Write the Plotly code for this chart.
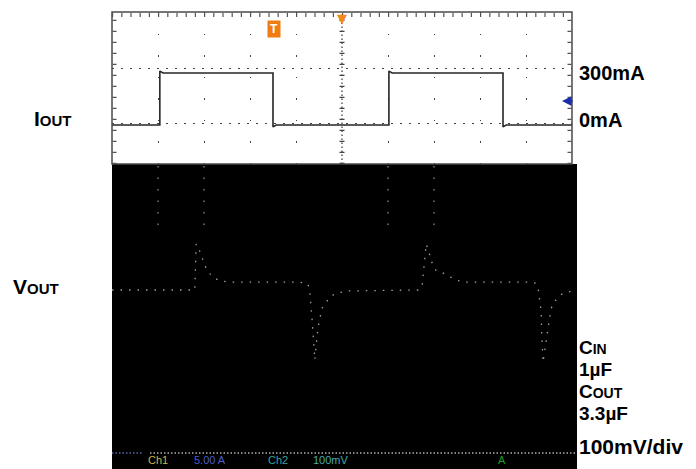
import plotly.graph_objects as go

# ---------------- data ----------------
# time axis in screen divisions (10 div across)
current_t_div = [0, 1.04, 1.04, 1.11, 3.50, 3.50, 3.57, 6.02, 6.02, 6.09, 8.50, 8.50, 8.57, 10]
current_mA = [0, 0, 311, 300, 300, -11, 0, 0, 311, 300, 300, -11, 0, 0]

voltage_t_div = [0, 1.80, 1.83, 1.89, 1.96, 2.00, 2.07, 2.13, 2.22, 2.35, 2.57, 4.09, 4.26,
                 4.30, 4.35, 4.39, 4.41, 4.46, 4.50, 4.57, 4.65, 4.74, 4.87, 5.15, 6.65, 6.74,
                 6.83, 6.89, 6.93, 7.04, 7.13, 7.26, 7.48, 7.63, 9.02, 9.20, 9.26, 9.28, 9.33,
                 9.34, 9.35, 9.37, 9.54, 9.59, 9.78, 9.93, 10.0]
voltage_mV = [0, 0, 100, 89, 70, 57, 43, 35, 26, 20, 17, 17, 13,
              -4, -65, -120, -152, -98, -70, -39, -28, -15, -7, -2, 0, 7,
              100, 83, 65, 43, 41, 33, 22, 17, 17, 15, 7, -13, -48,
              -91, -135, -157, -43, -28, -9, -4, -2]

current_labels = ["300mA", "0mA"]
trigger_time_div = 5.0
trigger_level_mA = 138
trigger_mark_div = 3.52

# ---------------- layout helpers ----------------
W, H = 696, 469
def px(x):
    return x / W
def py(y):
    return (H - y) / H

X0, X1 = 112, 572          # screen left/right
TOP0, TOP1 = 12, 164       # current panel top/bottom
Y_TOP = [-225, 652]        # mA range of current panel
Y_BOT = [-389.1, 273.9]    # mV range of voltage panel

FONT = "Liberation Sans, Arial, sans-serif"

fig = go.Figure()

fig.add_trace(go.Scatter(
    x=current_t_div, y=current_mA, mode="lines", xaxis="x", yaxis="y",
    line=dict(color="#262626", width=1.6), hoverinfo="skip", showlegend=False))

fig.add_trace(go.Scatter(
    x=voltage_t_div, y=voltage_mV, mode="lines", xaxis="x2", yaxis="y2",
    line=dict(color="#a0a0a0", width=1.3, dash="1.5px,7px"), hoverinfo="skip",
    showlegend=False))

shapes = []
# black voltage screen
shapes.append(dict(type="rect", xref="paper", yref="paper", x0=px(112), x1=px(577),
                   y0=0, y1=py(164), fillcolor="black", line=dict(width=0), layer="below"))
# current panel border
shapes.append(dict(type="rect", xref="paper", yref="paper", x0=px(X0), x1=px(X1),
                   y0=py(TOP1), y1=py(TOP0), line=dict(color="#4a4a4a", width=1.5)))
# minor ticks along top border
shapes.append(dict(type="line", xref="paper", yref="paper", x0=px(X0), x1=px(X1),
                   y0=py(15), y1=py(15), line=dict(color="#555", width=4, dash="1.2px,8px")))
# minor ticks along left / right border
for xb in (114.5, 569.5):
    shapes.append(dict(type="line", xref="paper", yref="paper", x0=px(xb), x1=px(xb),
                       y0=py(TOP1), y1=py(TOP0), line=dict(color="#555", width=4, dash="1.2px,9.8px")))
# centre vertical line with ticks
shapes.append(dict(type="line", xref="x", yref="paper", x0=trigger_time_div, x1=trigger_time_div,
                   y0=py(TOP1), y1=py(TOP0), line=dict(color="#333", width=1.2, dash="1.5px,2.5px")))
shapes.append(dict(type="line", xref="x", yref="paper", x0=trigger_time_div, x1=trigger_time_div,
                   y0=py(TOP1), y1=py(TOP0), line=dict(color="#444", width=5, dash="1.2px,9.8px")))
# faint grid remnants in the black screen
for gx in (1, 2, 6, 7):
    shapes.append(dict(type="line", xref="x2", yref="paper", x0=gx, x1=gx,
                       y0=py(225), y1=py(166), line=dict(color="#777", width=1.5, dash="1.5px,10px")))
# bottom dotted graticule line
shapes.append(dict(type="line", xref="paper", yref="paper", x0=px(112), x1=px(143),
                   y0=py(453), y1=py(453), line=dict(color="#5a6ab0", width=1.5, dash="1.5px,2px")))
shapes.append(dict(type="line", xref="paper", yref="paper", x0=px(150), x1=px(577),
                   y0=py(453), y1=py(453), line=dict(color="#b0b0b0", width=1.5, dash="1.5px,2px")))

ann = []
def label(x, y, text, size, anchor="left"):
    ann.append(dict(xref="paper", yref="paper", x=px(x), y=py(y), text=text, showarrow=False,
                    xanchor=anchor, yanchor="middle",
                    font=dict(family=FONT, size=size, color="black")))

label(577, 73, "<b>%s</b>" % current_labels[0], 20)
label(577, 120, "<b>%s</b>" % current_labels[1], 20)
label(32, 118, '<b>I<span style="font-size:15px">OUT</span></b>', 21)
label(11, 286, '<b>V<span style="font-size:15px">OUT</span></b>', 21)
label(577, 347, '<b>C<span style="font-size:14px">IN</span></b>', 19)
label(577, 369, '<b>1µF</b>', 19)
label(577, 391, '<b>C<span style="font-size:14px">OUT</span></b>', 19)
label(577, 413, '<b>3.3µF</b>', 19)
label(577, 446, '<b>100mV/div</b>', 21)

# trigger markers
ann.append(dict(xref="x", yref="paper", x=trigger_time_div, y=py(9), text="▼", showarrow=False,
                xanchor="center", yanchor="top", font=dict(family="DejaVu Sans", size=13, color="#f08a1c")))
ann.append(dict(xref="x", yref="paper", x=trigger_mark_div, y=py(29), text="<b>T</b>", showarrow=False,
                xanchor="center", yanchor="middle", bgcolor="#f07d12", width=10, height=14, borderpad=1,
                font=dict(family=FONT, size=12, color="white")))
ann.append(dict(xref="paper", yref="y", x=px(562), y=trigger_level_mA, ax=12, ay=0, text="",
                showarrow=True, arrowhead=2, arrowsize=1.2, arrowwidth=1.6, arrowcolor="#1c2ca8"))

# status readout at the bottom of the scope screen
status = [(146, "Ch1", "#c9b745"), (192, "5.00 A", "#4a5cc8"), (266, "Ch2", "#3aa0a0"),
          (311, "100mV", "#45aaaa"), (496, "A", "#1f9a2a")]
for sx, st, sc in status:
    ann.append(dict(xref="paper", yref="paper", x=px(sx), y=py(468), text=st, showarrow=False,
                    xanchor="left", yanchor="bottom", font=dict(family=FONT, size=11, color=sc)))

fig.update_layout(
    width=W, height=H, margin=dict(l=0, r=0, t=0, b=0),
    paper_bgcolor="white", plot_bgcolor="white",
    shapes=shapes, annotations=ann, showlegend=False,
    xaxis=dict(domain=[px(X0), px(X1)], range=[0, 10], anchor="y",
               tickvals=[1, 2, 3, 4, 6, 7, 8, 9], showgrid=True, gridcolor="#444", gridwidth=1.3,
               griddash="1.5px,20px", showticklabels=False, ticks="", zeroline=False, showline=False,
               fixedrange=True),
    yaxis=dict(domain=[py(TOP1), py(TOP0)], range=Y_TOP, anchor="x",
               tickvals=[11.5, 328.8], showgrid=True, gridcolor="#444", gridwidth=1.3,
               griddash="1.5px,7.5px", showticklabels=False, ticks="", zeroline=False, showline=False,
               fixedrange=True),
    xaxis2=dict(domain=[px(X0), px(X1)], range=[0, 10], anchor="y2", visible=False, fixedrange=True),
    yaxis2=dict(domain=[0, py(TOP1)], range=Y_BOT, anchor="x2", visible=False, fixedrange=True),
)

fig.write_html("out.html", config={"displayModeBar": False},
               post_script="document.body.style.margin='0';document.body.style.overflow='hidden';")
